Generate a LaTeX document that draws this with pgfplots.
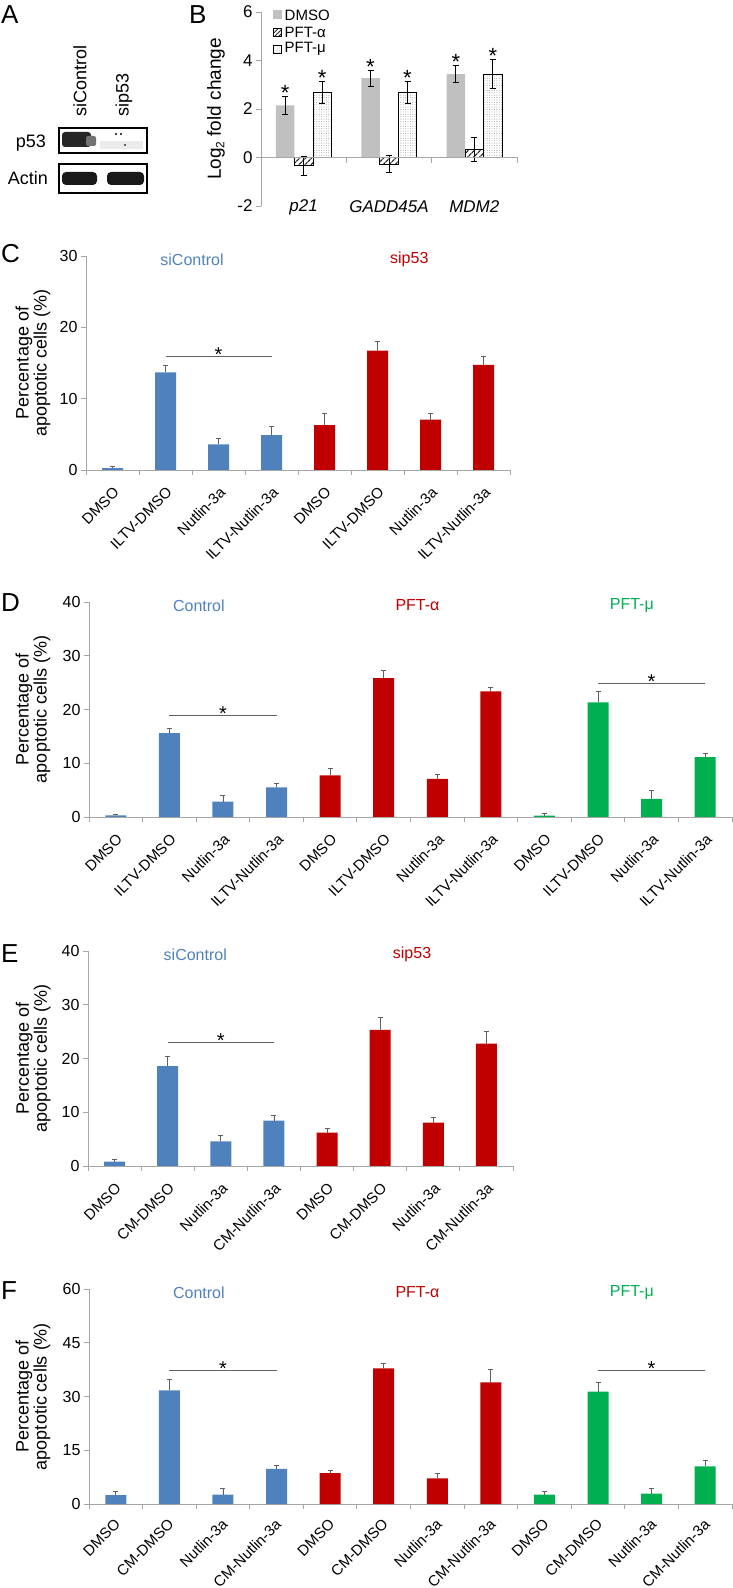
\documentclass[border=0pt]{standalone}
\usepackage{fontspec}
\setmainfont{Liberation Sans}
\usepackage{pgfplots}
\pgfplotsset{compat=1.18}
\usetikzlibrary{patterns.meta}
\definecolor{cblue}{HTML}{4F81BD}
\definecolor{cred}{HTML}{C00000}
\definecolor{cgreen}{HTML}{00B050}
\definecolor{axgray}{HTML}{A6A6A6}
\definecolor{errgray}{HTML}{606060}
\definecolor{bgray}{HTML}{C0C0C0}
\newcommand{\fs}[1]{\fontsize{#1}{#1}\selectfont}
\pgfplotsset{
  panel/.style={scale only axis, anchor=south west, clip=false,
    axis lines*=left, axis line style={draw=axgray, line width=0.9pt},
    tick style={draw=axgray, line width=0.9pt}, tick align=outside, major tick length=5pt,
    ymin=0, xmin=-0.5,
    /pgf/number format/assume math mode=true,
    yticklabel style={font=\fs{16}},
    xticklabels={},
    extra x tick style={major tick length=0pt,
      xticklabel style={yshift=-16pt, rotate=45, anchor=north east, inner sep=0pt, font=\fs{15}}},
    ylabel style={align=center, font=\fs{18}, anchor=center},
    ylabel={Percentage of\\apoptotic cells (\%)},
  },
  eb/.style={error bars/.cd, y dir=plus, y explicit,
    error bar style={draw=errgray, line width=0.8pt},
    error mark options={rotate=90, mark size=2.5pt, draw=errgray, line width=0.8pt}},
  ebb/.style={error bars/.cd, y dir=both, y explicit,
    error bar style={draw=black, line width=0.8pt},
    error mark options={rotate=90, mark size=3pt, draw=black, line width=0.8pt}},
  bb/.style={ybar, bar width=21pt, bar shift=0pt, draw=none},
}
\begin{document}
\begin{tikzpicture}
\useasboundingbox (0pt,0pt) rectangle (733pt,1588pt);
% ---------- Panel A ----------
\node[anchor=north west, inner sep=0pt, font=\fs{26}] at (1pt,1583pt) {A};
\node[anchor=north west, inner sep=0pt, font=\fs{26}] at (189pt,1583pt) {B};
\node[rotate=90, anchor=west, inner sep=0pt, font=\fs{18}] at (80pt,1471pt) {siControl};
\node[rotate=90, anchor=west, inner sep=0pt, font=\fs{18}] at (124pt,1471pt) {sip53};
\node[anchor=east, inner sep=0pt, font=\fs{18}] at (46pt,1445pt) {p53};
\node[anchor=east, inner sep=0pt, font=\fs{18}] at (48pt,1410pt) {Actin};
\fill[black!85, rounded corners=3pt] (62pt,1441pt) rectangle (91pt,1456pt);
\fill[black!55, rounded corners=2pt] (86pt,1442pt) rectangle (96pt,1452pt);
\fill[black!8] (100pt,1439pt) rectangle (143pt,1447pt);
\fill[black] (116pt,1454pt) circle (1.2pt);
\fill[black] (121pt,1454pt) circle (1.2pt);
\fill[black!80] (125pt,1443pt) circle (1.1pt);
\draw[line width=1.3pt] (59pt,1435pt) rectangle (147pt,1460pt);
\fill[black!90, rounded corners=4pt] (62pt,1403pt) rectangle (97pt,1416pt);
\fill[black!90, rounded corners=4pt] (107pt,1403pt) rectangle (144pt,1416pt);
\draw[line width=1.3pt] (59pt,1395pt) rectangle (147pt,1424pt);
% ---------- Panel B ----------
\begin{axis}[scale only axis, anchor=south west, at={(261pt,1382pt)}, width=256pt, height=194pt, clip=false,
  ybar=0pt, bar width=18.5pt,
  axis lines*=left, x axis line style={draw=none}, y axis line style={draw=axgray, line width=0.9pt},
  tick style={draw=axgray, line width=0.9pt}, tick align=outside, major tick length=5pt,
  xtick style={draw=none},
  ymin=-2, ymax=6, ytick={-2,0,2,4,6}, xmin=-0.5, xmax=2.5, xtick={0,1,2},
  xticklabels={p21,GADD45A,MDM2},
  xticklabel style={font=\itshape\fs{17}, anchor=center, inner sep=0pt, yshift=4pt},
  /pgf/number format/assume math mode=true,
  yticklabel style={font=\fs{17}},
  ylabel={Log\raisebox{-0.35ex}{\fs{12}2} fold change},
  ylabel style={font=\fs{19}, anchor=center, at={(axis description cs:-0.176,0.5)}},
]
\addplot[fill=bgray, draw=none, ebb] table[x=x,y=y,y error=e] {
x y e
0 2.15 0.38
1 3.27 0.32
2 3.44 0.35
};
\addplot[draw=black, line width=0.8pt,
  pattern={Lines[angle=45,distance=4pt,line width=1.3pt]}, pattern color=black!85, ebb] table[x=x,y=y,y error=e] {
x y e
0 -0.34 0.40
1 -0.27 0.34
2 0.34 0.50
};
\addplot[draw=black, line width=0.8pt,
  pattern={Dots[distance=2.4pt,radius=0.45pt]}, pattern color=black!45, ebb] table[x=x,y=y,y error=e] {
x y e
0 2.68 0.44
1 2.68 0.45
2 3.44 0.60
};
\draw[axgray, line width=0.9pt] (axis cs:-0.5,0) -- (axis cs:2.5,0);
\draw[axgray, line width=0.9pt] (axis cs:0.5,0) -- ([yshift=-6pt]axis cs:0.5,0);
\draw[axgray, line width=0.9pt] (axis cs:1.5,0) -- ([yshift=-6pt]axis cs:1.5,0);
\draw[axgray, line width=0.9pt] (axis cs:2.5,0) -- ([yshift=-6pt]axis cs:2.5,0);
\node[font=\fs{22}, anchor=base, inner sep=0pt, xshift=-18.5pt, yshift=-4pt] at (axis cs:0,2.53) {*};
\node[font=\fs{22}, anchor=base, inner sep=0pt, xshift=-18.5pt, yshift=-4pt] at (axis cs:1,3.59) {*};
\node[font=\fs{22}, anchor=base, inner sep=0pt, xshift=-18.5pt, yshift=-4pt] at (axis cs:2,3.79) {*};
\node[font=\fs{22}, anchor=base, inner sep=0pt, xshift=18.5pt, yshift=-4pt] at (axis cs:0,3.12) {*};
\node[font=\fs{22}, anchor=base, inner sep=0pt, xshift=18.5pt, yshift=-4pt] at (axis cs:1,3.13) {*};
\node[font=\fs{22}, anchor=base, inner sep=0pt, xshift=18.5pt, yshift=-4pt] at (axis cs:2,4.04) {*};
\end{axis}
% legend of panel B
\fill[bgray] (273pt,1568.5pt) rectangle (282pt,1577.5pt);
\node[anchor=west, inner sep=0pt, font=\fs{15}] at (284.5pt,1573pt) {DMSO};
\draw[line width=0.8pt, pattern={Lines[angle=45,distance=3pt,line width=1pt]}, pattern color=black!85] (273.5pt,1551.5pt) rectangle (281.5pt,1559.5pt);
\node[anchor=west, inner sep=0pt, font=\fs{15}] at (284.5pt,1556pt) {PFT-α};
\draw[line width=0.8pt, pattern={Dots[distance=2.2pt,radius=0.4pt]}, pattern color=black!45] (273.5pt,1534.5pt) rectangle (281.5pt,1542.5pt);
\node[anchor=west, inner sep=0pt, font=\fs{15}] at (284.5pt,1539pt) {PFT-μ};
% ---------- Panel C ----------
\node[anchor=north west, inner sep=0pt, font=\fs{26}] at (1pt,1344pt) {C};
\begin{axis}[panel, at={(86pt,1118pt)}, width=424pt, height=214pt, ymax=30, xmax=7.5,
  ytick={0,10,20,30},
  xtick={-0.5,0.5,...,7.5}, extra x ticks={0,...,7},
  extra x tick labels={DMSO,ILTV-DMSO,Nutlin-3a,ILTV-Nutlin-3a,DMSO,ILTV-DMSO,Nutlin-3a,ILTV-Nutlin-3a},
  ylabel style={at={(axis description cs:-0.125,0.5)}}]
\addplot[bb, fill=cblue, eb] table[x=x,y=y,y error=e] {
x y e
0 0.25 0.30
1 13.67 1.00
2 3.58 0.85
3 4.88 1.20
};
\addplot[bb, fill=cred, eb] table[x=x,y=y,y error=e] {
x y e
4 6.28 1.60
5 16.74 1.35
6 7.07 0.80
7 14.74 1.20
};
\node[font=\fs{16}, text=cblue, yshift=-3.5pt] at (axis cs:1.5,30) {siControl};
\node[font=\fs{16}, text=cred, yshift=-3.5pt] at (axis cs:5.6,30) {sip53};
\draw[errgray, line width=1.2pt] (axis cs:1,15.9) -- (axis cs:3,15.9);
\node[font=\fs{20}, anchor=base, inner sep=0pt, yshift=-5pt] at (axis cs:2,15.9) {*};
\end{axis}
% ---------- Panel D ----------
\node[anchor=north west, inner sep=0pt, font=\fs{26}] at (1pt,995pt) {D};
\begin{axis}[panel, at={(89pt,771pt)}, width=643pt, height=215pt, ymax=40, xmax=11.5,
  ytick={0,10,20,30,40},
  xtick={-0.5,0.5,...,11.5}, extra x ticks={0,...,11},
  extra x tick labels={DMSO,ILTV-DMSO,Nutlin-3a,ILTV-Nutlin-3a,DMSO,ILTV-DMSO,Nutlin-3a,ILTV-Nutlin-3a,DMSO,ILTV-DMSO,Nutlin-3a,ILTV-Nutlin-3a},
  ylabel style={at={(axis description cs:-0.087,0.5)}}]
\addplot[bb, fill=cblue, eb] table[x=x,y=y,y error=e] {
x y e
0 0.31 0.25
1 15.60 0.95
2 2.85 1.10
3 5.52 0.80
};
\addplot[bb, fill=cred, eb] table[x=x,y=y,y error=e] {
x y e
4 7.75 1.20
5 25.85 1.35
6 7.07 0.80
7 23.37 0.70
};
\addplot[bb, fill=cgreen, eb] table[x=x,y=y,y error=e] {
x y e
8 0.25 0.45
9 21.33 2.10
10 3.35 1.60
11 11.16 0.75
};
\node[font=\fs{16}, text=cblue, yshift=-3.5pt] at (axis cs:1.55,40) {Control};
\node[font=\fs{16}, text=cred, yshift=-3.5pt] at (axis cs:5.63,40) {PFT-α};
\node[font=\fs{16}, text=cgreen, yshift=-3.5pt] at (axis cs:9.63,40) {PFT-μ};
\draw[errgray, line width=1.2pt] (axis cs:1,18.9) -- (axis cs:3,18.9);
\node[font=\fs{20}, anchor=base, inner sep=0pt, yshift=-5pt] at (axis cs:2,18.9) {*};
\draw[errgray, line width=1.2pt] (axis cs:9,24.8) -- (axis cs:11,24.8);
\node[font=\fs{20}, anchor=base, inner sep=0pt, yshift=-5pt] at (axis cs:10,24.8) {*};
\end{axis}
% ---------- Panel E ----------
\node[anchor=north west, inner sep=0pt, font=\fs{26}] at (1pt,644pt) {E};
\begin{axis}[panel, at={(88pt,422pt)}, width=425pt, height=215pt, ymax=40, xmax=7.5,
  ytick={0,10,20,30,40},
  xtick={-0.5,0.5,...,7.5}, extra x ticks={0,...,7},
  extra x tick labels={DMSO,CM-DMSO,Nutlin-3a,CM-Nutlin-3a,DMSO,CM-DMSO,Nutlin-3a,CM-Nutlin-3a},
  ylabel style={at={(axis description cs:-0.129,0.5)}}]
\addplot[bb, fill=cblue, eb] table[x=x,y=y,y error=e] {
x y e
0 0.80 0.45
1 18.58 1.75
2 4.58 1.10
3 8.42 1.00
};
\addplot[bb, fill=cred, eb] table[x=x,y=y,y error=e] {
x y e
4 6.19 0.80
5 25.33 2.40
6 8.05 1.00
7 22.79 2.20
};
\node[font=\fs{16}, text=cblue, yshift=-3.5pt] at (axis cs:1.52,40) {siControl};
\node[font=\fs{16}, text=cred, yshift=-3.5pt] at (axis cs:5.6,40) {sip53};
\draw[errgray, line width=1.2pt] (axis cs:1,23.0) -- (axis cs:3,23.0);
\node[font=\fs{20}, anchor=base, inner sep=0pt, yshift=-5pt] at (axis cs:2,23.0) {*};
\end{axis}
% ---------- Panel F ----------
\node[anchor=north west, inner sep=0pt, font=\fs{26}] at (1pt,307pt) {F};
\begin{axis}[panel, at={(89pt,84pt)}, width=643pt, height=215pt, ymax=60, xmax=11.5,
  ytick={0,15,30,45,60},
  xtick={-0.5,0.5,...,11.5}, extra x ticks={0,...,11},
  extra x tick style={xticklabel style={yshift=3pt}},
  extra x tick labels={DMSO,CM-DMSO,Nutlin-3a,CM-Nutlin-3a,DMSO,CM-DMSO,Nutlin-3a,CM-Nutlin-3a,DMSO,CM-DMSO,Nutlin-3a,CM-Nutlin-3a},
  ylabel style={at={(axis description cs:-0.087,0.5)}}]
\addplot[bb, fill=cblue, eb] table[x=x,y=y,y error=e] {
x y e
0 2.51 0.93
1 31.70 3.00
2 2.60 1.85
3 9.77 1.00
};
\addplot[bb, fill=cred, eb] table[x=x,y=y,y error=e] {
x y e
4 8.65 0.85
5 37.86 1.40
6 7.16 1.40
7 33.95 3.60
};
\addplot[bb, fill=cgreen, eb] table[x=x,y=y,y error=e] {
x y e
8 2.60 1.00
9 31.35 2.70
10 2.88 1.40
11 10.51 1.60
};
\node[font=\fs{16}, text=cblue, yshift=-3.5pt] at (axis cs:1.55,60) {Control};
\node[font=\fs{16}, text=cred, yshift=-3.5pt] at (axis cs:5.63,60) {PFT-α};
\node[font=\fs{16}, text=cgreen, yshift=-3.5pt] at (axis cs:9.63,60) {PFT-μ};
\draw[errgray, line width=1.2pt] (axis cs:1,37.3) -- (axis cs:3,37.3);
\node[font=\fs{20}, anchor=base, inner sep=0pt, yshift=-5pt] at (axis cs:2,37.3) {*};
\draw[errgray, line width=1.2pt] (axis cs:9,37.3) -- (axis cs:11,37.3);
\node[font=\fs{20}, anchor=base, inner sep=0pt, yshift=-5pt] at (axis cs:10,37.3) {*};
\end{axis}
\end{tikzpicture}
\end{document}
